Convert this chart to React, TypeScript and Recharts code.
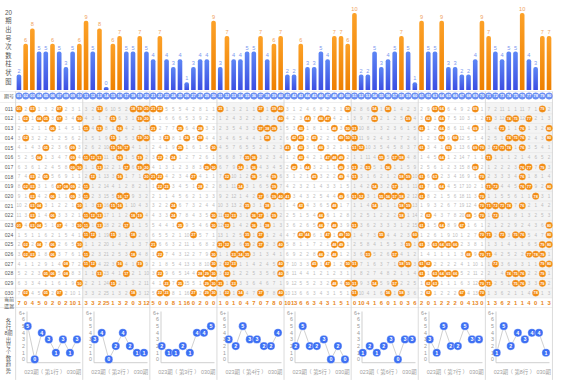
import React from 'react';
import {
  BarChart, Bar, XAxis, YAxis, Cell, LabelList,
  ScatterChart, Scatter, ReferenceLine, ReferenceArea,
  LineChart, Line,
} from 'recharts';

// 号码
const balls = [
  '01', '02', '03', '04', '05', '06', '07', '08', '09', '10',
  '11', '12', '13', '14', '15', '16', '17', '18', '19', '20',
  '21', '22', '23', '24', '25', '26', '27', '28', '29', '30',
  '31', '32', '33', '34', '35', '36', '37', '38', '39', '40',
  '41', '42', '43', '44', '45', '46', '47', '48', '49', '50',
  '51', '52', '53', '54', '55', '56', '57', '58', '59', '60',
  '61', '62', '63', '64', '65', '66', '67', '68', '69', '70',
  '71', '72', '73', '74', '75', '76', '77', '78', '79', '80',
];

const periods = [
  '011', '012', '013', '014', '015', '016', '017', '018', '019', '020',
  '021', '022', '023', '024', '025', '026', '027', '028', '029', '030',
];

// 20期出号次数
const hitCounts = [
  2, 6, 8, 5, 5, 6, 5, 3, 5, 6,
  9, 5, 8, 0, 6, 7, 5, 5, 7, 5,
  4, 7, 4, 3, 4, 1, 3, 4, 4, 9,
  3, 7, 4, 4, 5, 5, 7, 4, 6, 7,
  2, 2, 6, 3, 3, 5, 4, 7, 7, 6,
  10, 2, 2, 5, 3, 4, 5, 7, 5, 1,
  9, 5, 5, 9, 3, 3, 2, 2, 4, 9,
  7, 5, 4, 5, 5, 10, 4, 3, 7, 7,
];

// 当前遗漏
const currentMiss = [
  7, 0, 4, 5, 0, 2, 0, 2, 10, 1,
  3, 3, 2, 25, 1, 3, 2, 0, 3, 12,
  5, 0, 0, 8, 1, 16, 0, 2, 0, 0,
  1, 0, 1, 0, 4, 7, 0, 7, 8, 0,
  10, 13, 6, 6, 3, 4, 3, 1, 5, 1,
  0, 10, 4, 1, 6, 0, 1, 0, 3, 6,
  2, 0, 1, 2, 2, 2, 0, 4, 13, 0,
  1, 3, 6, 2, 1, 1, 4, 0, 1, 3,
];

// 011期 的遗漏值
const firstRowMiss = [
  0, 2, 0, 1, 3, 2, 0, 2, 3, 1,
  3, 2, 0, 6, 10, 5, 2, 0, 0, 0,
  0, 0, 5, 5, 5, 4, 2, 8, 1, 1,
  0, 1, 3, 2, 1, 1, 0, 1, 0, 0,
  3, 1, 2, 4, 6, 8, 2, 3, 1, 0,
  2, 8, 6, 0, 1, 0, 1, 4, 2, 3,
  2, 9, 0, 0, 6, 4, 9, 2, 0, 1,
  7, 2, 11, 1, 1, 11, 7, 1, 0, 2,
];

// 开奖号码 011-030
const draws = [
  [1, 3, 7, 13, 18, 19, 20, 21, 22, 31, 37, 39, 40, 50, 54, 56, 63, 64, 69, 79],
  [2, 4, 5, 7, 10, 15, 19, 20, 40, 44, 46, 47, 54, 59, 62, 64, 71, 74, 75, 77],
  [6, 11, 13, 16, 21, 25, 28, 37, 38, 39, 43, 48, 50, 51, 61, 64, 69, 73, 76, 80],
  [2, 15, 19, 20, 23, 26, 28, 38, 42, 43, 45, 49, 50, 51, 64, 66, 74, 75, 76, 80],
  [5, 9, 15, 16, 17, 25, 30, 41, 43, 46, 51, 52, 61, 65, 69, 70, 72, 73, 74, 76],
  [4, 9, 11, 12, 13, 16, 19, 22, 24, 35, 36, 43, 47, 48, 49, 55, 57, 58, 64, 71],
  [9, 10, 13, 17, 19, 20, 29, 30, 34, 36, 42, 44, 49, 51, 53, 56, 69, 76, 77, 79],
  [3, 5, 12, 16, 20, 21, 22, 27, 32, 36, 39, 45, 49, 51, 58, 59, 61, 63, 70, 76],
  [2, 3, 7, 8, 9, 11, 22, 23, 28, 34, 39, 54, 57, 61, 64, 71, 72, 76, 77, 80],
  [3, 6, 9, 11, 16, 17, 37, 39, 40, 41, 49, 51, 52, 55, 56, 57, 58, 61, 70, 78],
  [3, 4, 10, 13, 15, 16, 24, 35, 38, 43, 48, 54, 58, 59, 70, 71, 72, 73, 74, 76],
  [3, 6, 11, 12, 13, 18, 19, 24, 30, 32, 33, 36, 37, 39, 46, 58, 62, 68, 70, 72],
  [1, 3, 4, 7, 10, 11, 13, 17, 25, 30, 32, 36, 38, 46, 48, 51, 61, 64, 67, 80],
  [11, 12, 15, 18, 27, 35, 37, 43, 44, 47, 49, 50, 55, 60, 70, 71, 73, 75, 76, 80],
  [2, 4, 6, 10, 21, 31, 32, 35, 37, 40, 48, 49, 59, 61, 63, 64, 65, 66, 79, 80],
  [2, 3, 6, 11, 18, 22, 30, 33, 34, 35, 46, 48, 53, 57, 68, 70, 71, 77, 78, 79],
  [8, 11, 12, 16, 19, 30, 32, 33, 40, 45, 47, 50, 51, 58, 59, 61, 62, 72, 79, 80],
  [5, 6, 8, 13, 17, 22, 28, 29, 30, 32, 40, 61, 63, 64, 65, 66, 74, 75, 76, 79],
  [10, 15, 23, 25, 29, 30, 31, 33, 48, 50, 51, 54, 57, 62, 63, 70, 71, 75, 76, 79],
  [2, 5, 7, 18, 22, 23, 27, 29, 30, 32, 34, 37, 40, 51, 56, 58, 62, 67, 70, 78],
];

// 各行8期出号个数 (023-030)
const rowTrends = [
  [5, 0, 4, 3, 1, 3, 1, 3],
  [3, 4, 0, 2, 4, 2, 1, 1],
  [2, 1, 1, 2, 1, 4, 4, 5],
  [3, 2, 5, 3, 3, 2, 2, 4],
  [2, 5, 2, 2, 3, 0, 2, 0],
  [1, 2, 1, 2, 3, 0, 3, 3],
  [3, 1, 5, 2, 2, 5, 3, 3],
  [1, 5, 2, 4, 3, 4, 4, 1],
];
const rowNames = ['第1行', '第2行', '第3行', '第4行', '第5行', '第6行', '第7行', '第8行'];
const trendFrom = '023期';
const trendTo = '030期';
const trendTicks = [0, 1, 2, 3, 4, 5, 6, 7];

const barTitle = ['20', '期', '出', '号', '次', '数', '柱', '状', '图'];
const trendTitle = ['各', '行', '8期', '出', '号', '个', '数', '趋', '势'];

// layout
const W = 562;
const H = 380;
const FONT = "'Liberation Sans', 'Noto Sans CJK SC', sans-serif";
const COL0 = 12.29;
const COL_W = 6.71;
const ROW0 = 109;
const ROW_H = 9.686;
const rowAt = (px: number) => (px - ROW0) / ROW_H;
const colAt = (px: number) => (px - COL0) / COL_W;
const X_DOMAIN = [colAt(0), colAt(W)];
const Y_DOMAIN = [rowAt(0), rowAt(H)];
const HEAD_Y = rowAt(96);
const MISS_Y = rowAt(302.5);
const LABEL_X = colAt(9);
const TOP_LINE = rowAt(91.5);
const HEAD_LINE = rowAt(102.5);
const BOTTOM_LINE = rowAt(307.5);

const barData = balls.map((b, i) => ({ ball: b, count: hitCounts[i] }));

// 开奖号 -> 圆圈, 其余 -> 遗漏值
const hits: any[] = [];
const misses: any[] = [];
let prev: number[] = [];
draws.forEach((list, r) => {
  prev = balls.map((b, i) => {
    const hit = list.includes(i + 1);
    const m = hit ? 0 : r === 0 ? firstRowMiss[i] : prev[i] + 1;
    if (hit) hits.push({ x: i + 1, y: r, ball: b });
    else misses.push({ x: i + 1, y: r, miss: m });
    return m;
  });
});

const headData = balls.map((b, i) => ({ x: i + 1, y: HEAD_Y, ball: b }));
const labelData = [
  { x: LABEL_X, y: HEAD_Y, text: '期号' },
  ...periods.map((p, r) => ({ x: LABEL_X, y: r, text: p })),
  { x: LABEL_X, y: MISS_Y, text: '当前遗漏' },
];
const curMissData = currentMiss.map((m, i) => ({ x: i + 1, y: MISS_Y, v: m }));

const rowLines = [TOP_LINE, HEAD_LINE, ...periods.map((p, r) => r + 0.5), BOTTOM_LINE];
const blockLines = [0.5, 10.5, 20.5, 30.5, 40.5, 50.5, 60.5, 70.5, 80.5];
const shadedBlocks = [[10.5, 20.5], [30.5, 40.5], [50.5, 60.5], [70.5, 80.5]];

const HitDot = (p: any) => (
  <g>
    <circle cx={p.cx} cy={p.cy} r={3.3} fill="#f28a12" stroke="#f6a94a" strokeWidth={0.4} />
    <text x={p.cx} y={p.cy + 1.4} textAnchor="middle" fontSize={3.9} fontWeight={700} fill="#fff" fontFamily={FONT}>
      {p.payload.ball}
    </text>
  </g>
);

const MissText = (p: any) => (
  <text x={p.cx} y={p.cy + 1.6} textAnchor="middle" fontSize={4.6} fill="#bdbdbd" fontFamily={FONT}>
    {p.payload.miss}
  </text>
);

const HeadDot = (p: any) => (
  <g>
    <circle cx={p.cx} cy={p.cy} r={3.3} fill="#6d93f6" stroke="#4b73ea" strokeWidth={0.4} />
    <text x={p.cx} y={p.cy + 1.4} textAnchor="middle" fontSize={3.9} fontWeight={700} fill="#fff" fontFamily={FONT}>
      {p.payload.ball}
    </text>
  </g>
);

const RowLabel = (p: any) => {
  const t: string = p.payload.text;
  if (t.length === 4) {
    return (
      <g>
        <text x={p.cx} y={p.cy - 1.2} textAnchor="middle" fontSize={5} fill="#555" fontFamily={FONT}>{t.slice(0, 2)}</text>
        <text x={p.cx} y={p.cy + 5} textAnchor="middle" fontSize={5} fill="#555" fontFamily={FONT}>{t.slice(2)}</text>
      </g>
    );
  }
  return (
    <text x={p.cx} y={p.cy + 1.8} textAnchor="middle" fontSize={5} fill="#555" fontFamily={FONT}>{t}</text>
  );
};

const CurMiss = (p: any) => (
  <text x={p.cx} y={p.cy + 2} textAnchor="middle" fontSize={5.8} fontWeight={700} fill="#e8861a" fontFamily={FONT}>
    {p.payload.v}
  </text>
);

const BarLabel = (p: any) => {
  const { x, y, width, value } = p;
  return (
    <text x={x + width / 2} y={y - 2} textAnchor="middle" fontSize={5.6} fill={value >= 6 ? '#f0a35e' : '#7c98ef'} fontFamily={FONT}>
      {value}
    </text>
  );
};

const TrendDot = (p: any) => {
  if (p.cx == null) return null;
  return (
    <g key={p.index}>
      <circle cx={p.cx} cy={p.cy} r={4.1} fill="#3d6ff3" stroke="#ffffff" strokeWidth={0.4} />
      <text x={p.cx} y={p.cy + 1.9} textAnchor="middle" fontSize={5.3} fontWeight={700} fill="#fff" fontFamily={FONT}>
        {p.value}
      </text>
    </g>
  );
};

const panelLeft = (k: number) => COL0 + COL_W * (10 * k + 0.5);

export default function App() {
  return (
    <div style={{ position: 'absolute', left: 0, top: 0, width: W, height: H, background: '#fff', overflow: 'hidden' }}>
      <div style={{ position: 'absolute', left: 0, top: 0 }}>
        <ScatterChart width={W} height={H} margin={{ top: 0, right: 0, bottom: 0, left: 0 }}>
          <XAxis type="number" dataKey="x" domain={X_DOMAIN} hide />
          <YAxis type="number" dataKey="y" domain={Y_DOMAIN} reversed hide />
          {shadedBlocks.map(([a, b]) => (
            <ReferenceArea key={a} x1={a} x2={b} y1={HEAD_LINE} y2={19.5} fill="#f4f4f4" fillOpacity={1} stroke="none" />
          ))}
          {rowLines.map((y, i) => (
            <ReferenceLine key={'h' + i} segment={[{ x: X_DOMAIN[0] + 0.01, y }, { x: 80.5, y }]} stroke="#e4e4e4" strokeWidth={0.6} />
          ))}
          {blockLines.map((x) => (
            <ReferenceLine key={'v' + x} segment={[{ x, y: TOP_LINE }, { x, y: Y_DOMAIN[1] - 0.01 }]} stroke="#d2d2d2" strokeWidth={0.8} />
          ))}
          <Scatter data={misses} shape={MissText} isAnimationActive={false} />
          <Scatter data={hits} shape={HitDot} isAnimationActive={false} />
          <Scatter data={headData} shape={HeadDot} isAnimationActive={false} />
          <Scatter data={labelData} shape={RowLabel} isAnimationActive={false} />
          <Scatter data={curMissData} shape={CurMiss} isAnimationActive={false} />
        </ScatterChart>
      </div>

      <div style={{ position: 'absolute', left: 0, top: 0 }}>
        <BarChart width={W} height={92} data={barData} margin={{ top: 13, right: W - COL0 - COL_W * 80.5, bottom: 2, left: COL0 + COL_W * 0.5 }}>
          <defs>
            <linearGradient id="gBlue" x1="0" y1="0" x2="0" y2="1">
              <stop offset="0" stopColor="#5d86f5" />
              <stop offset="1" stopColor="#3c4ee2" />
            </linearGradient>
            <linearGradient id="gOrange" x1="0" y1="0" x2="0" y2="1">
              <stop offset="0" stopColor="#fca128" />
              <stop offset="1" stopColor="#ee8000" />
            </linearGradient>
          </defs>
          <XAxis dataKey="ball" hide />
          <YAxis type="number" domain={[0, 10]} hide />
          <Bar dataKey="count" barSize={4.6} radius={[2, 2, 0, 0]} minPointSize={3} isAnimationActive={false}>
            {barData.map((d) => (
              <Cell key={d.ball} fill={d.count >= 6 ? 'url(#gOrange)' : 'url(#gBlue)'} />
            ))}
            <LabelList dataKey="count" content={BarLabel} />
          </Bar>
        </BarChart>
      </div>

      {rowTrends.map((vals, k) => (
        <div key={k} style={{ position: 'absolute', left: panelLeft(k), top: 306 }}>
          <LineChart width={67} height={74} data={vals.map((v, i) => ({ i, v }))} margin={{ top: 5.5, right: 2.5, bottom: 16.3, left: 0 }}>
            <XAxis type="number" dataKey="i" domain={[-0.1, 7.5]} tick={false} tickLine={false} height={1} axisLine={{ stroke: '#cfcfcf' }} />
            <YAxis
              type="number"
              domain={[-0.5, 7.2]}
              ticks={trendTicks}
              interval={0}
              tickFormatter={(v: number) => (v === 7 ? '6+' : String(v))}
              width={11}
              tickLine={false}
              tickSize={0}
              tickMargin={2}
              axisLine={{ stroke: '#cfcfcf' }}
              tick={{ fontSize: 5.3, fill: '#999', fontFamily: FONT }}
            />
            <Line dataKey="v" stroke="#c4c4c4" strokeWidth={0.8} dot={TrendDot} activeDot={false} isAnimationActive={false} />
          </LineChart>
        </div>
      ))}

      <svg width={W} height={H} style={{ position: 'absolute', left: 0, top: 0 }}>
        {barTitle.map((t, i) => (
          <text key={'b' + i} x={8.5} y={12.5 + 8.6 * i + 2.3} textAnchor="middle" fontSize={6.3} fill="#555" fontFamily={FONT}>{t}</text>
        ))}
        {trendTitle.map((t, i) => (
          <text key={'t' + i} x={8.5} y={321 + 6.2 * i + 2} textAnchor="middle" fontSize={5.3} fill="#555" fontFamily={FONT}>{t}</text>
        ))}
        {rowNames.map((n, k) => {
          const L = panelLeft(k);
          return (
            <g key={n} fontSize={5.4} fill="#a0a0a0" fontFamily={FONT}>
              <text x={L + 8.5} y={374} textAnchor="start">{trendFrom}</text>
              <text x={L + 36} y={374} textAnchor="middle">{'（ ' + n + ' ）'}</text>
              <text x={L + 65.5} y={374} textAnchor="end">{trendTo}</text>
            </g>
          );
        })}
      </svg>
    </div>
  );
}
